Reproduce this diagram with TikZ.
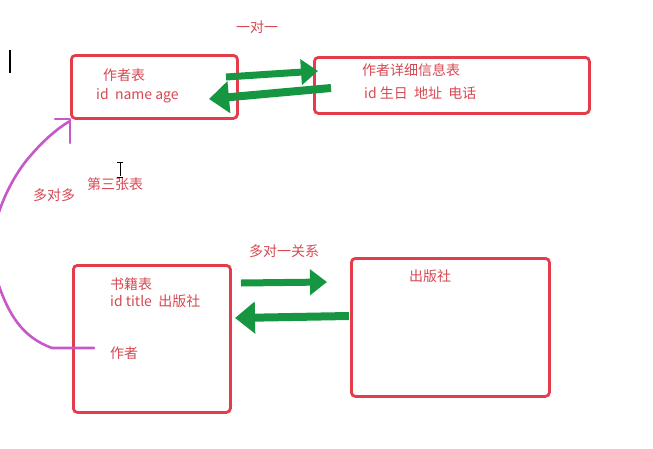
\documentclass[tikz,border=0pt]{standalone}
\usepackage{fontspec}
\setmainfont{Noto Sans CJK SC}
\usetikzlibrary{arrows.meta}
\definecolor{boxred}{RGB}{228,60,75}
\definecolor{txtred}{RGB}{214,72,82}
\definecolor{arrgreen}{RGB}{22,150,64}
\definecolor{purp}{RGB}{198,88,200}
\tikzset{
  tbl/.style={draw=boxred, line width=2.8pt, rounded corners=4pt, inner sep=0pt, anchor=north west},
  lbl/.style={text=txtred, font=\fontsize{14}{16}\selectfont, inner sep=0pt, anchor=base west},
  garrow/.style={draw=arrgreen, line width=#1, -{Triangle[length=17pt 0,width=25pt 0]}},
  garrowb/.style={draw=arrgreen, line width=#1, -{Triangle[length=20pt 0,width=31pt 0]}},
  pline/.style={draw=purp, line width=2.6pt, line cap=round, line join=round},
}
\begin{document}
\begin{tikzpicture}[x=1pt,y=-1pt]
\useasboundingbox (0,0) rectangle (653,448);
\clip (0,0) rectangle (653,448);
% tables
\node[tbl, minimum width=166pt, minimum height=63pt] (A) at (70,54) {};
\node[tbl, minimum width=275pt, minimum height=56pt] (B) at (313,56) {};
\node[tbl, minimum width=157pt, minimum height=147pt] (C) at (72,264) {};
\node[tbl, minimum width=198pt, minimum height=138pt] (D) at (350,257) {};
% labels
\node[lbl] (t1) at (236,32) {一对一};
\node[lbl] (a1) at (103,80) {作者表};
\node[lbl] (a2) at (96,99) {id\ \ name age};
\node[lbl] (b1) at (362,75) {作者详细信息表};
\node[lbl] (b2) at (364,98) {id 生日\ \ 地址\ \ 电话};
\node[lbl] (t2) at (87,189) {第三张表};
\node[lbl] (t3) at (33,200) {多对多};
\node[lbl] (t4) at (249,256) {多对一关系};
\node[lbl] (c1) at (110,289) {书籍表};
\node[lbl] (c2) at (110,306) {id title\ \ 出版社};
\node[lbl] (c3) at (110,358) {作者};
\node[lbl] (d1) at (409,281) {出版社};
% green arrows
\coordinate (g1s) at (226,77); \coordinate (g1e) at (318,71);
\coordinate (g2s) at (331,88); \coordinate (g2e) at (209,99);
\coordinate (g3s) at (241,283); \coordinate (g3e) at (327,282);
\coordinate (g4s) at (349,316); \coordinate (g4e) at (235,318);
\draw[garrow=7pt] (g1s) -- (g1e);
\draw[garrowb=8pt] (g2s) -- (g2e);
\draw[garrow=7pt] (g3s) -- (g3e);
\draw[garrowb=8pt] (g4s) -- (g4e);
% purple many-to-many curve
\coordinate (p0) at (94,348);
\coordinate (p1) at (52,348);
\coordinate (p2) at (70,121);
\draw[pline] (p0) -- (p1) .. controls (25,338) and (6,318) .. (-8,262)
  .. controls (-12,228) and (8,180) .. (32,154) .. controls (44,140) and (58,128) .. (p2);
\coordinate (h1) at (55,119); \coordinate (h2) at (70,119); \coordinate (h3) at (70,143);
\draw[pline] (h1) -- (h2) -- (h3);
% cursors
\draw[black, line width=1.2pt] (10,50) -- (10,73);
\draw[black, line width=0.9pt] (120,163) -- (120,176) (117,162) -- (123,162) (117,177) -- (123,177);
\end{tikzpicture}
\end{document}
